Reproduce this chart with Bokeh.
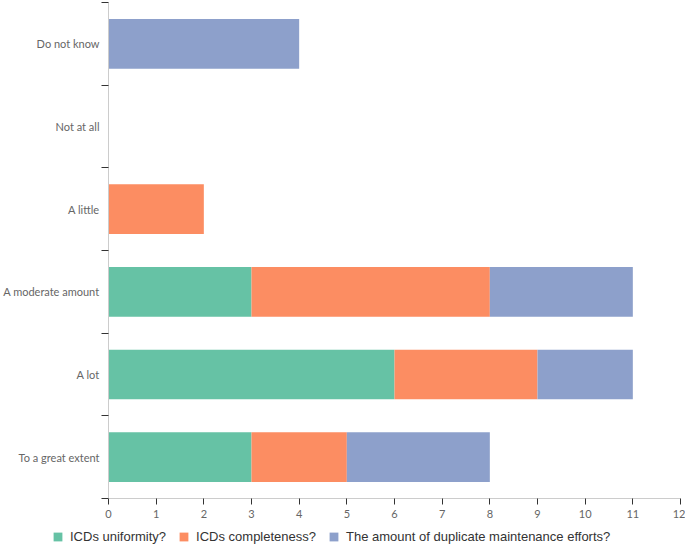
from bokeh.plotting import figure
from bokeh.layouts import column, row
from bokeh.models import ColumnDataSource, FixedTicker, Legend, LegendItem, Range1d
from bokeh.embed import file_html
from bokeh.resources import INLINE

categories = ["To a great extent", "A lot", "A moderate amount", "A little", "Not at all", "Do not know"]
uniformity = [3, 6, 3, 0, 0, 0]
completeness = [2, 3, 5, 2, 0, 0]
duplicate = [3, 2, 3, 0, 0, 4]
series_names = ["ICDs uniformity?", "ICDs completeness?", "The amount of duplicate maintenance efforts?"]
colors = ["#66c2a5", "#fc8d62", "#8da0cb"]
x_ticks = list(range(0, 13))

ypos = [i + 0.5 for i in range(len(categories))]
source = ColumnDataSource(dict(y=ypos, s0=uniformity, s1=completeness, s2=duplicate))

p = figure(width=685, height=524, output_backend="svg", toolbar_location=None,
           x_range=Range1d(0, 12), y_range=Range1d(0, len(categories)),
           min_border_left=108, min_border_right=5, min_border_top=2, min_border_bottom=26)
p.outline_line_color = None
p.xgrid.visible = False
p.ygrid.visible = False

rs = p.hbar_stack(["s0", "s1", "s2"], y="y", height=0.6, color=colors, source=source, line_color=None)

# x axis
p.xaxis.ticker = FixedTicker(ticks=x_ticks)
p.xaxis.axis_line_color = "#cccccc"
p.xaxis.major_tick_line_color = "#333333"
p.xaxis.major_tick_out = 6
p.xaxis.major_tick_in = 0
p.xaxis.minor_tick_line_color = None
p.xaxis.major_label_text_font = "Lato"
p.xaxis.major_label_text_font_size = "11px"
p.xaxis.major_label_text_color = "#666666"
p.xaxis.major_label_standoff = 5

# y axis: labels at centers, ticks at boundaries
p.yaxis.ticker = FixedTicker(ticks=ypos, minor_ticks=list(range(len(categories) + 1)))
p.yaxis.major_label_overrides = {y: c for y, c in zip(ypos, categories)}
p.yaxis.axis_line_color = "#cccccc"
p.yaxis.major_tick_line_color = None
p.yaxis.major_tick_out = 0
p.yaxis.major_tick_in = 0
p.yaxis.minor_tick_line_color = "#333333"
p.yaxis.minor_tick_out = 7
p.yaxis.minor_tick_in = 0
p.yaxis.major_label_text_font = "Lato"
p.yaxis.major_label_text_font_size = "11px"
p.yaxis.major_label_text_color = "#666666"
p.yaxis.major_label_standoff = 2

# legend strip below the chart (hidden copies of the bars, only their legend is shown)
pl = figure(width=685, height=23, output_backend="svg", toolbar_location=None,
            x_range=Range1d(0, 12), y_range=Range1d(0, 6),
            min_border=0, x_axis_type=None, y_axis_type=None)
pl.outline_line_color = None
pl.xgrid.visible = False
pl.ygrid.visible = False
swatches = pl.hbar_stack(["s0", "s1", "s2"], y="y", height=0.6, color=colors, source=source, line_color=None)
for r in swatches:
    r.visible = False
legend = Legend(items=[LegendItem(label=n, renderers=[r]) for n, r in zip(series_names, swatches)],
                orientation="horizontal", location=(52, 3), padding=0, margin=0,
                border_line_color=None, background_fill_alpha=0, inactive_fill_alpha=0,
                glyph_width=11, glyph_height=11, label_standoff=7, spacing=17 - 11 + 11 - 11 + 6,
                label_text_font="Liberation Sans", label_text_font_size="13px",
                label_text_color="#333333")
pl.add_layout(legend, "center")

layout = column(p, row(pl), spacing=0)
open("out.html", "w").write(file_html(layout, INLINE))
